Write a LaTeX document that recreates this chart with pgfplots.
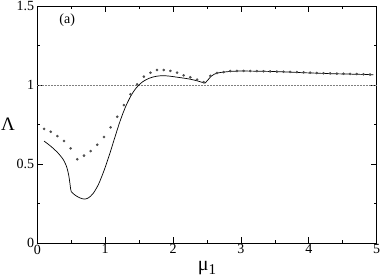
\documentclass[border=0pt]{standalone}
\usepackage{pgfplots}
\pgfplotsset{compat=1.18}
\usepackage{fontspec}
\setmainfont{Liberation Serif}
\begin{document}
\begin{tikzpicture}
\begin{axis}[
  name=ax, at={(0,0)}, anchor=south west,
  scale only axis, width=339.4pt, height=237pt,
  xmin=0, xmax=5, ymin=0, ymax=1.5,
  xtick={0,1,2,3,4,5}, minor xtick={0.5,1.5,2.5,3.5,4.5},
  ytick={0,0.5,1,1.5}, minor ytick={0.25,0.75,1.25},
  yticklabels={0,0.5,1,1.5},
  tick align=inside, major tick length=6pt, minor tick length=3pt,
  tick style={black, line width=0.7pt},
  axis line style={line width=0.9pt},
  /pgf/number format/assume math mode=true,
  ticklabel style={font=\fontsize{14}{16}\selectfont, inner sep=0.5pt},
  xticklabel style={yshift=-1pt},
  yticklabel style={xshift=-2.5pt},
  xlabel={\fontsize{20}{22}\selectfont μ\raisebox{-0.45ex}{\fontsize{15}{16}\selectfont 1}},
  xlabel style={at={(axis description cs:0.5,-0.105)}, anchor=center},
  ylabel={\fontsize{19}{21}\selectfont Λ},
  ylabel style={at={(axis description cs:-0.086,0.5)}, anchor=center, rotate=-90},
  clip=false,
]
\addplot[gray, densely dotted, line width=0.5pt] coordinates {(0,1) (5,1)};
\addplot[black, line width=0.7pt, smooth, tension=0.4] coordinates {
(0.10,0.645) (0.20,0.612) (0.30,0.572) (0.38,0.530) (0.43,0.485) (0.46,0.435)
(0.48,0.380) (0.49,0.345) (0.50,0.325)
};
\addplot[black, line width=0.7pt, smooth, tension=0.5] coordinates {
(0.50,0.325) (0.55,0.305) (0.62,0.287) (0.69,0.278) (0.75,0.285) (0.82,0.312)
(0.90,0.370) (0.98,0.455) (1.06,0.555) (1.14,0.665) (1.22,0.772) (1.30,0.862)
(1.38,0.932) (1.46,0.983) (1.55,1.020) (1.65,1.043) (1.75,1.055) (1.85,1.059)
(1.95,1.056) (2.05,1.050) (2.15,1.044) (2.25,1.037) (2.35,1.027) (2.42,1.018) (2.47,1.012)
};
\addplot[black, line width=0.7pt, smooth, tension=0.5] coordinates {
(2.47,1.012) (2.51,1.030) (2.56,1.055) (2.61,1.069) (2.67,1.077) (2.75,1.082)
(2.85,1.086) (2.95,1.088) (3.10,1.088) (3.30,1.087) (3.50,1.085) (3.70,1.082)
(3.90,1.078) (4.10,1.075) (4.30,1.072) (4.50,1.070) (4.70,1.068) (4.95,1.065)
};
\addplot[only marks, mark=*, mark size=1.1pt, color=black!70, mark options={draw=black!70, fill=black!70}] coordinates {
(0.100,0.722) (0.198,0.704) (0.296,0.677) (0.394,0.646) (0.492,0.599)
(0.590,0.530) (0.688,0.553) (0.786,0.582) (0.884,0.622) (0.982,0.671)
(1.080,0.732) (1.178,0.799) (1.276,0.873) (1.373,0.941) (1.471,1.004)
(1.569,1.053) (1.667,1.078) (1.765,1.095) (1.863,1.095) (1.961,1.089)
(2.059,1.078) (2.157,1.061) (2.255,1.049) (2.353,1.034) (2.451,1.018)
(2.549,1.058) (2.647,1.076) (2.745,1.082) (2.843,1.088) (2.941,1.089)
(3.039,1.089) (3.137,1.089) (3.235,1.088) (3.333,1.087) (3.431,1.086)
(3.529,1.085) (3.627,1.084) (3.725,1.083) (3.824,1.082) (3.922,1.080)
(4.020,1.078) (4.118,1.076) (4.216,1.075) (4.314,1.073) (4.412,1.072)
(4.510,1.071) (4.608,1.070) (4.706,1.069) (4.804,1.068) (4.902,1.066)
};
\node[font=\fontsize{14}{16}\selectfont] at (axis cs:0.44,1.41) {(a)};
\end{axis}
\pgfresetboundingbox
\path (-37.3pt,243pt) rectangle (344.7pt,-36pt);
\end{tikzpicture}
\end{document}
